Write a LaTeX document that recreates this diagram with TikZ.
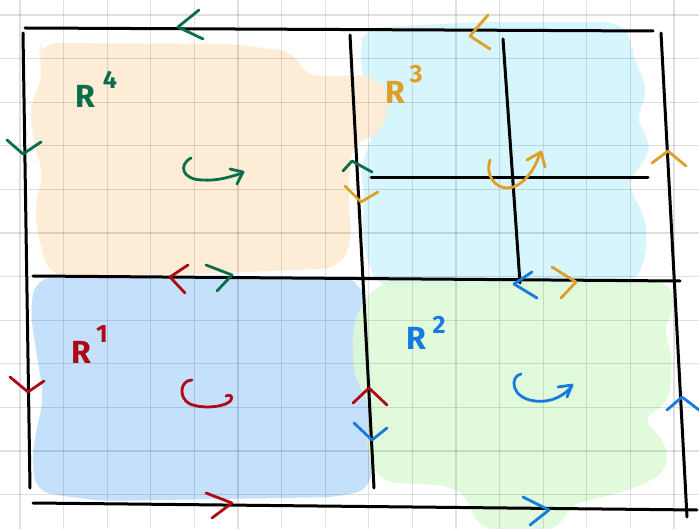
\documentclass[tikz,border=0pt]{standalone}
\usepackage{fontspec}
\setmainfont{Fira Sans}
\definecolor{cgr}{RGB}{10,110,75}
\definecolor{cor}{RGB}{222,158,40}
\definecolor{crd}{RGB}{175,10,20}
\definecolor{cbl}{RGB}{22,122,225}
\definecolor{fpeach}{RGB}{253,236,214}
\definecolor{fcyan}{RGB}{214,245,252}
\definecolor{fblue}{RGB}{196,224,250}
\definecolor{fgreen}{RGB}{221,250,216}
\tikzset{
  blob/.style={rounded corners=16pt},
  gridln/.style={black,opacity=0.12,line width=1.2pt},
  edge/.style={black,line width=3pt,line cap=round},
  chev/.style={line width=2.8pt,line cap=round,line join=round},
  rlab/.style={font=\fontsize{32}{32}\selectfont\bfseries,inner sep=0pt},
  slab/.style={font=\fontsize{25}{25}\selectfont\bfseries,inner sep=0pt}
}
\begin{document}
\begin{tikzpicture}[x=1pt,y=-1pt]
\useasboundingbox (0,0) rectangle (699,529);
\fill[white] (0,0) rectangle (699,529);
% colored regions
\fill[fcyan,blob] (365,28) -- (480,22) -- (620,22) -- (634,40) -- (630,60) -- (644,72) -- (646,105) -- (632,120) -- (650,135) -- (648,162) -- (630,172) -- (630,195) -- (646,215) -- (646,262) -- (630,288) -- (380,288) -- (368,265) -- (362,230) -- (365,200) -- (360,165) -- (372,140) -- (376,100) -- (362,80) -- (360,45) -- cycle;
\fill[fpeach,blob] (42,43) -- (230,44) -- (296,52) -- (303,76) -- (378,76) -- (390,100) -- (380,136) -- (352,142) -- (348,200) -- (352,240) -- (340,268) -- (200,274) -- (50,276) -- (40,245) -- (34,205) -- (44,178) -- (32,135) -- (30,100) -- (44,82) -- (38,55) -- cycle;
\fill[fblue,blob] (36,278) -- (345,277) -- (364,286) -- (368,330) -- (374,400) -- (370,450) -- (372,488) -- (340,497) -- (100,501) -- (36,492) -- (32,460) -- (36,430) -- (44,400) -- (36,350) -- (30,310) -- cycle;
\fill[fgreen,blob,opacity=0.9] (380,282) -- (672,282) -- (676,310) -- (660,330) -- (672,345) -- (670,402) -- (640,420) -- (666,440) -- (668,472) -- (630,490) -- (566,506) -- (562,529) -- (478,529) -- (470,502) -- (455,486) -- (380,482) -- (366,450) -- (370,400) -- (354,380) -- (352,330) -- (360,305) -- cycle;
% grid
\foreach \k in {0,...,15} \draw[gridln] ({20+43.6*\k},0) -- ({20+43.6*\k},529);
\foreach \k in {0,...,11} \draw[gridln] (0,{15+43.6*\k}) -- (699,{15+43.6*\k});
% black edges
\draw[edge] (25,28) -- (653,31);
\draw[edge] (23,33) -- (30,488);
\draw[edge] (350,35) -- (374,488);
\draw[edge] (33,276) -- (680,281);
\draw[edge] (33,503) -- (697,510);
\draw[edge] (661,33) -- (687,517);
\draw[edge] (503,39) -- (520,283);
\draw[edge] (371,178) -- (648,178);
% chevrons
\draw[chev,cgr] (199,10) -- (178,27) -- (203,39);
\draw[chev,cgr] (7,140) -- (23,154) -- (41,142);
\draw[chev,cgr] (343,171) -- (352,161) -- (372,172);
\draw[chev,cor] (488,15) -- (470,36) -- (490,49);
\draw[chev,cor] (345,186) -- (361,202) -- (378,192);
\draw[chev,cor] (652,163) -- (668,151) -- (686,166);
\draw[chev,crd] (188,265) -- (170,277) -- (185,293);
\draw[chev,cgr] (206,265) -- (232,275) -- (217,291);
\draw[chev,crd] (10,377) -- (28,392) -- (44,381);
\draw[chev,crd] (206,493) -- (232,503) -- (212,518);
\draw[chev,cbl] (532,272) -- (514,284) -- (537,298);
\draw[chev,cor] (552,267) -- (576,282) -- (561,298);
\draw[chev,crd] (353,403) -- (369,388) -- (387,405);
\draw[chev,cbl] (354,423) -- (372,440) -- (387,428);
\draw[chev,cbl] (667,410) -- (682,397) -- (699,410);
\draw[chev,cbl] (523,497) -- (549,510) -- (530,525);
% rotation arrows
\draw[chev,cgr] (191,158) .. controls (178,165) and (182,180) .. (203,180) .. controls (220,181) and (232,176) .. (243,173);
\draw[chev,cgr] (230,169) -- (243,172) -- (237,184);
\draw[chev,cor] (490,160) .. controls (485,175) and (495,188) .. (507,188) .. controls (522,188) and (535,170) .. (540,153);
\draw[chev,cor] (527,160) -- (541,152) -- (545,167);
\draw[chev,crd] (192,380) .. controls (180,380) and (178,398) .. (190,404) .. controls (205,410) and (228,406) .. (231,400) .. controls (233,396) and (230,394) .. (226,396);
\draw[chev,cbl] (521,374) .. controls (510,376) and (510,398) .. (535,401) .. controls (552,403) and (565,395) .. (572,386);
\draw[chev,cbl] (558,387) -- (572,385) -- (567,397);
% labels
\node[rlab,cgr] (r4) at (85,96) {R};
\node[slab,cgr] (r4s) at (110,80) {4};
\node[rlab,cor] (r3) at (395,92) {R};
\node[slab,cor] (r3s) at (416,74) {3};
\node[rlab,crd] (r1) at (81,352) {R};
\node[slab,crd] (r1s) at (102,334) {1};
\node[rlab,cbl] (r2) at (416,338) {R};
\node[slab,cbl] (r2s) at (439,325) {2};
\end{tikzpicture}
\end{document}
